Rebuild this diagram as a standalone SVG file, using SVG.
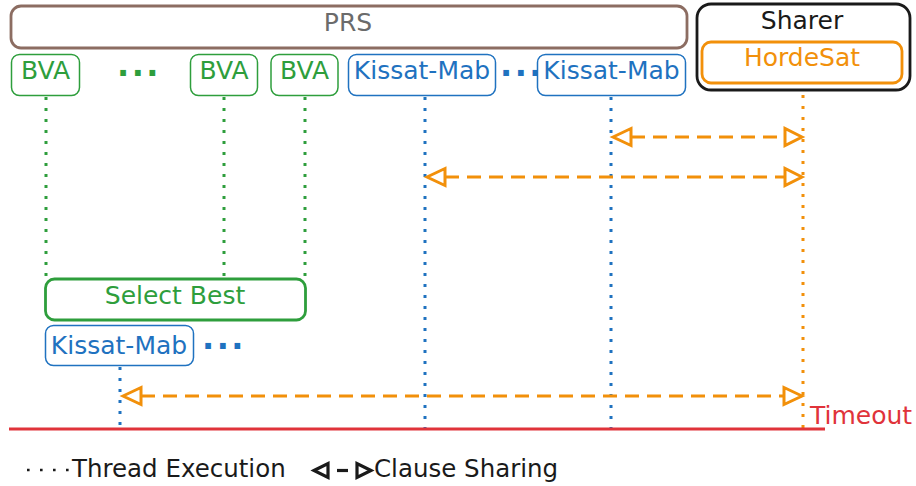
<svg xmlns="http://www.w3.org/2000/svg" width="916" height="486" viewBox="0 0 916 486">
  <defs>
    <style>
      text { font-family: "DejaVu Sans", "Liberation Sans", sans-serif; font-size: 25px; }
      .mid { text-anchor: middle; }
      .green { fill: #2e9e3c; }
      .blue { fill: #1f72c0; }
      .orange { fill: #f2900a; }
      .box-thin { fill: #ffffff; stroke-width: 1.5; }
      .box-thick { fill: #ffffff; stroke-width: 2.8; }
      .g-stroke { stroke: #2e9e3c; }
      .b-stroke { stroke: #1f72c0; }
      .o-stroke { stroke: #f2900a; }
      .thread { fill: none; stroke-width: 3; stroke-dasharray: 3 8; }
      .share { fill: none; stroke: #f2900a; stroke-width: 3; stroke-dasharray: 14 8; }
      .head { fill: #ffffff; stroke: #f2900a; stroke-width: 3; stroke-linejoin: miter; }
      .ellipsis { font-weight: bold; font-size: 32px; letter-spacing: 2.5px; }
      .legend-text { font-size: 24.5px; fill: #1a1a1a; }
    </style>
  </defs>

  <rect width="916" height="486" fill="#ffffff"/>

  <!-- execution threads and sharing links -->
  <g id="connectors">
    <!-- BVA threads -->
    <line class="thread g-stroke" x1="46" y1="97" x2="46" y2="279"/>
    <line class="thread g-stroke" x1="224" y1="97" x2="224" y2="279"/>
    <line class="thread g-stroke" x1="305" y1="97" x2="305" y2="279"/>
    <!-- Kissat-Mab threads -->
    <line class="thread b-stroke" x1="425" y1="97" x2="425" y2="429"/>
    <line class="thread b-stroke" x1="611" y1="97" x2="611" y2="429"/>
    <line class="thread b-stroke" x1="120" y1="367" x2="120" y2="429"/>
    <!-- sharer thread -->
    <line class="thread o-stroke" x1="803" y1="84" x2="803" y2="429"/>

    <!-- clause sharing arrows -->
    <line class="share" x1="631" y1="137" x2="785" y2="137"/>
    <polygon class="head" points="613,137 631,128.5 631,145.5"/>
    <polygon class="head" points="802,137 785,128.5 785,145.5"/>

    <line class="share" x1="445" y1="177" x2="785" y2="177"/>
    <polygon class="head" points="427,177 445,168.5 445,185.5"/>
    <polygon class="head" points="802,177 785,168.5 785,185.5"/>

    <line class="share" x1="141" y1="396" x2="784" y2="396"/>
    <polygon class="head" points="123,396 141,387.5 141,404.5"/>
    <polygon class="head" points="802,396 784,387.5 784,404.5"/>
  </g>

  <!-- PRS frame -->
  <g id="prs">
    <rect x="11" y="6" width="676" height="42" rx="10" fill="#ffffff" stroke="#8c6d62" stroke-width="2.8"/>
    <text x="348" y="31" class="mid" fill="#6b6b6b">PRS</text>
  </g>

  <!-- Sharer frame with HordeSat -->
  <g id="sharer">
    <rect x="697" y="4" width="213" height="86" rx="14" fill="#ffffff" stroke="#1a1a1a" stroke-width="2.8"/>
    <text x="802" y="29" class="mid" fill="#1a1a1a">Sharer</text>
  </g>
  <g id="hordesat">
    <rect class="box-thick o-stroke" x="702" y="42" width="200" height="41" rx="9"/>
    <text x="802" y="66" class="mid orange">HordeSat</text>
  </g>

  <!-- BVA preprocessors -->
  <g id="bva-1">
    <rect class="box-thin g-stroke" x="11.5" y="54.5" width="68" height="41" rx="8"/>
    <text x="45.5" y="79" class="mid green">BVA</text>
  </g>
  <text id="bva-more" x="117" y="76" class="ellipsis green">...</text>
  <g id="bva-2">
    <rect class="box-thin g-stroke" x="190.5" y="54.5" width="67" height="41" rx="8"/>
    <text x="224" y="79" class="mid green">BVA</text>
  </g>
  <g id="bva-3">
    <rect class="box-thin g-stroke" x="271" y="54.5" width="67" height="41" rx="8"/>
    <text x="304.5" y="79" class="mid green">BVA</text>
  </g>

  <!-- Kissat-Mab solvers -->
  <g id="kissat-1">
    <rect class="box-thin b-stroke" x="348.5" y="54.5" width="147" height="41" rx="8"/>
    <text x="422" y="79" class="mid blue">Kissat-Mab</text>
  </g>
  <text id="kissat-more" x="500" y="76" class="ellipsis blue">...</text>
  <g id="kissat-2">
    <rect class="box-thin b-stroke" x="537.5" y="54.5" width="148" height="41" rx="8"/>
    <text x="611.5" y="79" class="mid blue">Kissat-Mab</text>
  </g>

  <!-- selection after preprocessing -->
  <g id="select-best">
    <rect class="box-thick g-stroke" x="45.5" y="279" width="260" height="41" rx="9"/>
    <text x="175" y="304" class="mid green">Select Best</text>
  </g>
  <g id="kissat-3">
    <rect class="box-thin b-stroke" x="45.5" y="325.5" width="148" height="40" rx="8"/>
    <text x="119" y="354" class="mid blue">Kissat-Mab</text>
  </g>
  <text id="kissat-3-more" x="202" y="349" class="ellipsis blue">...</text>

  <!-- timeout -->
  <g id="timeout">
    <line x1="9" y1="429" x2="825" y2="429" stroke="#e0333a" stroke-width="3"/>
    <text x="810" y="424" fill="#e0333a">Timeout</text>
  </g>

  <!-- legend -->
  <g id="legend">
    <line x1="27" y1="470" x2="70" y2="470" stroke="#1a1a1a" stroke-width="2.6" stroke-dasharray="2.6 10.4"/>
    <text x="72" y="477" class="legend-text">Thread Execution</text>
    <polygon points="314,470.5 328,463.5 328,477.5" fill="#ffffff" stroke="#1a1a1a" stroke-width="3.2"/>
    <line x1="337" y1="470.5" x2="348" y2="470.5" stroke="#1a1a1a" stroke-width="3.2"/>
    <polygon points="371,470.5 357,463.5 357,477.5" fill="#ffffff" stroke="#1a1a1a" stroke-width="3.2"/>
    <text x="374" y="477" class="legend-text">Clause Sharing</text>
  </g>
</svg>
